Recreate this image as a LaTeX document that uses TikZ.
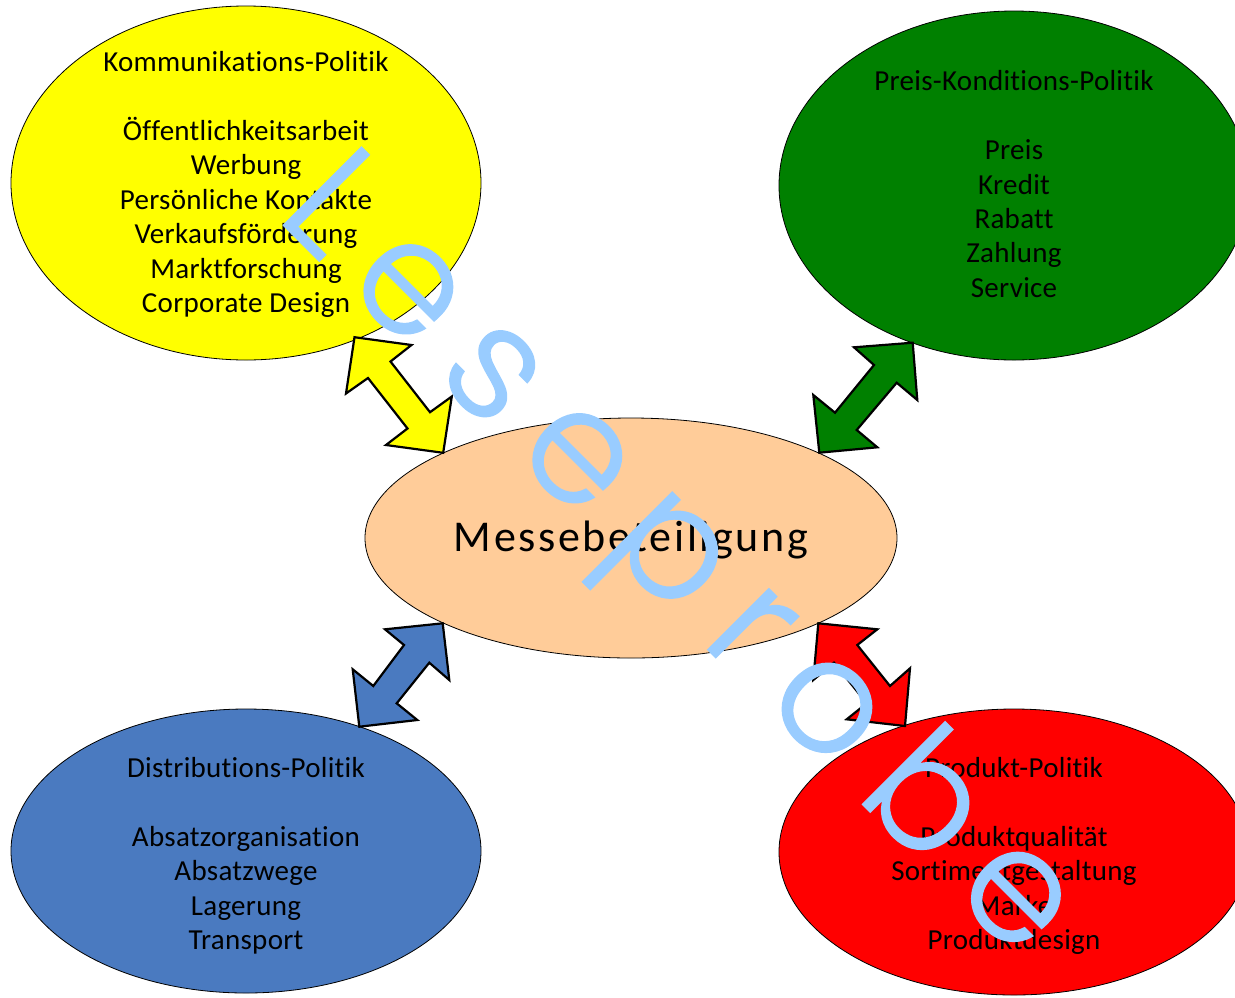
\documentclass[tikz,border=0pt]{standalone}
\usepackage{fontspec}
\setmainfont{Carlito}[Ligatures=NoCommon]
\usetikzlibrary{shapes.geometric}
\IfFontExistsTF{Poppins Light}{\newfontfamily\wmfont{Poppins Light}}{%
  \IfFontExistsTF{Lato Light}{\newfontfamily\wmfont{Lato Light}}{\newfontfamily\wmfont{Poppins}}}
\newcommand\wmk{\kern 0.19em}
\newcommand\wmstroke[1]{\special{pdf:literal q 2 Tr 1.4 w 0.6 0.8 1 RG}#1\special{pdf:literal Q}}
\definecolor{kyellow}{HTML}{FFFF00}
\definecolor{kgreen}{HTML}{008000}
\definecolor{kblue}{HTML}{4A7AC0}
\definecolor{kred}{HTML}{FF0000}
\definecolor{kpeach}{HTML}{FFCC99}
\definecolor{kwm}{HTML}{99CCFF}
\tikzset{
  blob/.style={ellipse, draw=black, line width=0.8pt, inner sep=0pt},
  blocka/.style={draw=black, line width=2.2pt, line join=miter, miter limit=10},
  lbl/.style={align=center, font=\fontsize{29}{34.4}\selectfont\addfontfeatures{LetterSpace=1}, inner sep=0pt},
}
\begin{document}
\begin{tikzpicture}[x=1pt,y=-1pt]
\useasboundingbox (0,0) rectangle (1235,997);
\clip (0,0) rectangle (1235,997);
% ellipses
\node[blob, fill=kyellow, minimum width=470pt, minimum height=354pt] (kom) at (246,183) {};
\node[blob, fill=kgreen, minimum width=470pt, minimum height=349pt] (preis) at (1014,185.5) {};
\node[blob, fill=kblue, minimum width=470pt, minimum height=284pt] (dist) at (246,851) {};
\node[blob, fill=kred, minimum width=470pt, minimum height=286pt] (prod) at (1014,852) {};
\node[blob, fill=kpeach, minimum width=532pt, minimum height=240pt] (messe) at (631,538) {};
% texts
\node[lbl] (komt) at (246,184.5) {Kommunikations-Politik\\[34.4pt]Öffentlichkeitsarbeit\\Werbung\\Persönliche Kontakte\\Verkaufsförderung\\Marktforschung\\Corporate Design};
\node[lbl] (preist) at (1014,184.2) {Preis-Konditions-Politik\\[34.4pt]Preis\\Kredit\\Rabatt\\Zahlung\\Service};
\node[lbl] (distt) at (246,855.9) {Distributions-Politik\\[34.4pt]Absatzorganisation\\Absatzwege\\Lagerung\\Transport};
\node[lbl] (prodt) at (1014,855.9) {Produkt-Politik\\[34.4pt]Produktqualität\\Sortimentgestaltung\\Marke\\Produktdesign};
\node[font=\fontsize{44}{52}\selectfont\addfontfeatures{LetterSpace=6}, anchor=base, inner sep=0pt] (messet) at (631,551.7) {Messebeteiligung};
% block arrows
\filldraw[blocka, fill=kyellow] (354.5,337.2) -- (411.5,345) -- (390.5,361.5) -- (430,412.2) -- (451.8,396.5) -- (443.2,452.8) -- (386,445) -- (407.5,428.5) -- (368,378) -- (346,393.5) -- cycle;
\filldraw[blocka, fill=kgreen] (912.7,342.7) -- (854,347.3) -- (874,365) -- (835,412.7) -- (813.3,395) -- (819.3,452.7) -- (877.3,447.3) -- (856.7,430) -- (896.7,382.7) -- (917.3,400) -- cycle;
\filldraw[blocka, fill=kblue] (442.7,623.3) -- (385,629.3) -- (404,645) -- (373.3,686) -- (352.7,669.3) -- (359.3,726.7) -- (417.3,720) -- (396.7,703.3) -- (429.3,662.7) -- (449.3,680) -- cycle;
\filldraw[blocka, fill=kred] (818.3,623.3) -- (877.3,629.3) -- (857.3,645) -- (890,686) -- (910,668.3) -- (905,726) -- (846.7,719.3) -- (866.7,703.3) -- (834,662.7) -- (813.3,680) -- cycle;
% watermark
\node[rotate=-45, text=kwm, font=\wmfont\fontsize{158}{158}\selectfont, inner sep=0pt] (wm) at (674,562) {\wmstroke{L\wmk e\wmk s\wmk e\wmk p\wmk r\wmk o\wmk b\wmk e}};
\end{tikzpicture}
\end{document}
